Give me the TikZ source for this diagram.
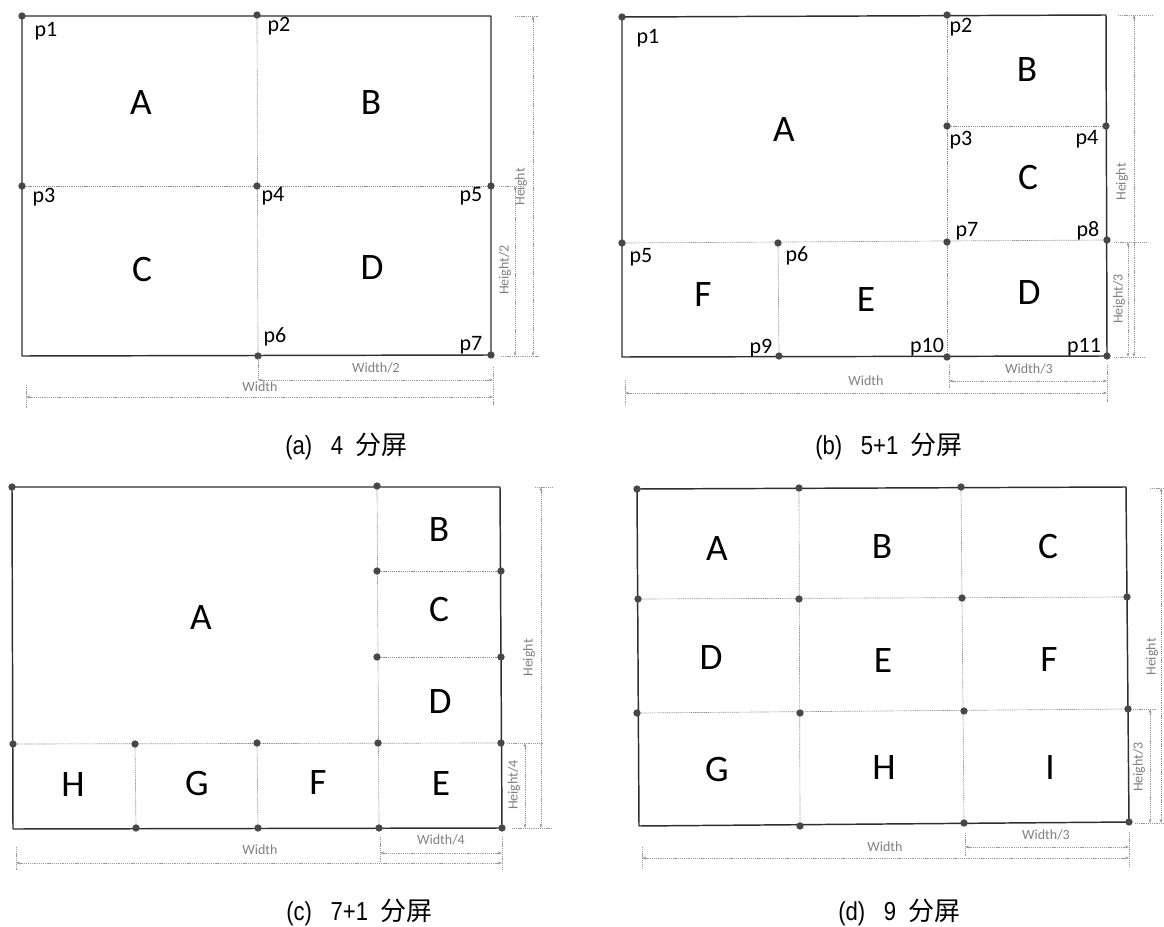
\documentclass[tikz,border=0pt]{standalone}
\usepackage{fontspec}
\setmainfont{Carlito}
\newfontfamily\capfont[FakeStretch=0.85]{Liberation Sans}
\newfontfamily\cjk{Noto Sans CJK SC}
\usetikzlibrary{arrows.meta}
\begin{document}
\begin{tikzpicture}[x=0.75pt,y=-0.75pt,
 border/.style={draw=black!82,line width=1.1pt,line join=round},
 grid/.style={draw=black!45,line width=0.5pt,dash pattern=on 0.8pt off 0.6pt},
 pt/.style={circle,fill=black!72,inner sep=0pt,minimum size=5.5pt},
 dim/.style={draw=black!40,line width=0.45pt,dash pattern=on 0.8pt off 0.6pt,{Stealth[length=3.2pt,width=2.2pt]}-{Stealth[length=3.2pt,width=2.2pt]}},
 ext/.style={draw=black!40,line width=0.45pt,dash pattern=on 0.8pt off 0.6pt},
 dlab/.style={text=black!50,font=\fontsize{10.5}{12}\selectfont,inner sep=0pt},
 big/.style={font=\fontsize{28}{30}\selectfont,inner sep=0pt},
 plab/.style={font=\fontsize{16.5}{18}\selectfont,inner sep=0pt},
 captext/.style={font=\capfont\fontsize{19.5}{22}\selectfont,anchor=west,inner sep=0pt}]
\useasboundingbox (0,0) rectangle (1164,927);

% ================= (a) =================
\coordinate (a1) at (22,16);  \coordinate (a2) at (257,15); \coordinate (aTR) at (491,16);
\coordinate (a3) at (22,186); \coordinate (a4) at (257,186); \coordinate (a5) at (491,186);
\coordinate (aBL) at (22,356); \coordinate (a6) at (258,356); \coordinate (a7) at (491,355);
\draw[grid] (a2) -- (a6);
\draw[grid] (a3) -- (a5);
\draw[border] (a1) -- (aTR) -- (a7) -- (aBL) -- cycle;
\foreach \p in {a1,a2,a3,a4,a5,a6,a7} \node[pt] (\p dot) at (\p) {};
\node[plab] (la1) at (46,31) {p1};
\node[plab] (la2) at (279,26) {p2};
\node[plab] (la3) at (44,197) {p3};
\node[plab] (la4) at (273,196) {p4};
\node[plab] (la5) at (471,196) {p5};
\node[plab] (la6) at (275,337) {p6};
\node[plab] (la7) at (471,345) {p7};
\node[big] (aA) at (141,103) {A};
\node[big] (aB) at (371,103) {B};
\node[big] (aC) at (142,270) {C};
\node[big] (aD) at (372,268) {D};
% dimensions
\draw[ext] (515,16) -- (538,16);
\draw[ext] (499,186) -- (524,186);
\draw[ext] (501,356) -- (540,356);
\draw[dim] (533,16) -- (533,356);
\draw[dim] (515,186) -- (515,356);
\node[dlab,rotate=90] (aH) at (521,187) {Height};
\node[dlab,rotate=90] (aH2) at (505,270) {Height/2};
\draw[ext] (26,385) -- (26,408);
\draw[ext] (493,367) -- (493,405);
\draw[ext] (258,358) -- (258,380);
\draw[dim] (258,380) -- (493,380);
\draw[dim] (26,397) -- (493,397);
\node[dlab] (aW2) at (376,368) {Width/2};
\node[dlab] (aW) at (260,387) {Width};
\node[captext] (capa) at (285,447) {(a)\hspace{14pt}4\hspace{9pt}{\cjk 分屏}};

% ================= (b) =================
\coordinate (b1) at (622,17); \coordinate (b2) at (947,15); \coordinate (bTR) at (1106,15);
\coordinate (b3) at (947,126); \coordinate (b4) at (1106,126);
\coordinate (b5) at (622,243); \coordinate (b6) at (778,243); \coordinate (b7) at (947,242); \coordinate (b8) at (1107,240);
\coordinate (bBL) at (622,357); \coordinate (b9) at (779,356); \coordinate (b10) at (947,357); \coordinate (b11) at (1107,356);
\draw[grid] (b2) -- (b10);
\draw[grid] (b3) -- (b4);
\draw[grid] (b5) -- (b8);
\draw[grid] (b6) -- (b9);
\draw[border] (b1) -- (bTR) -- (b11) -- (bBL) -- cycle;
\foreach \p in {b1,b2,b3,b4,b5,b6,b7,b8,b9,b10,b11} \node[pt] (\p dot) at (\p) {};
\node[plab] (lb1) at (648,38) {p1};
\node[plab] (lb2) at (961,27) {p2};
\node[plab] (lb3) at (961,140) {p3};
\node[plab] (lb4) at (1087,139) {p4};
\node[plab] (lb5) at (641,257) {p5};
\node[plab] (lb6) at (797,256) {p6};
\node[plab] (lb7) at (967,231) {p7};
\node[plab] (lb8) at (1088,231) {p8};
\node[plab] (lb9) at (761,348) {p9};
\node[plab] (lb10) at (927,347) {p10};
\node[plab] (lb11) at (1084,347) {p11};
\node[big] (bA) at (784,130) {A};
\node[big] (bB) at (1027,70) {B};
\node[big] (bC) at (1028,178) {C};
\node[big] (bD) at (1029,293) {D};
\node[big] (bE) at (866,300) {E};
\node[big] (bF) at (703,295) {F};
\draw[ext] (1118,15) -- (1152,15);
\draw[ext] (1114,242) -- (1147,242);
\draw[ext] (1114,357) -- (1145,357);
\draw[dim] (1134,15) -- (1134,357);
\draw[dim] (1128,242) -- (1128,357);
\node[dlab,rotate=90] (bH) at (1122,182) {Height};
\node[dlab,rotate=90] (bH3) at (1119,299) {Height/3};
\draw[ext] (625,380) -- (625,405);
\draw[ext] (949,365) -- (949,388);
\draw[ext] (1107,365) -- (1107,402);
\draw[dim] (949,381) -- (1107,381);
\draw[dim] (625,393) -- (1107,393);
\node[dlab] (bW3) at (1029,369) {Width/3};
\node[dlab] (bW) at (866,381) {Width};
\node[captext] (capb) at (815,447) {(b)\hspace{14pt}5+1\hspace{9pt}{\cjk 分屏}};

% ================= (c) =================
\coordinate (c1) at (12,487); \coordinate (c2) at (377,486); \coordinate (cTR) at (500,487);
\coordinate (c3) at (377,571); \coordinate (c4) at (501,571);
\coordinate (c5) at (377,657); \coordinate (c6) at (501,657);
\coordinate (c7) at (13,744); \coordinate (c8) at (135,744); \coordinate (c9) at (257,743); \coordinate (c10) at (378,743); \coordinate (c11) at (501,743);
\coordinate (cBL) at (13,829); \coordinate (c12) at (136,828); \coordinate (c13) at (258,828); \coordinate (c14) at (379,828); \coordinate (c15) at (502,828);
\draw[grid] (c2) -- (c14);
\draw[grid] (c3) -- (c4);
\draw[grid] (c5) -- (c6);
\draw[grid] (c7) -- (c11);
\draw[grid] (c8) -- (c12);
\draw[grid] (c9) -- (c13);
\draw[border] (c1) -- (cTR) -- (c15) -- (cBL) -- cycle;
\foreach \p in {c1,c2,c3,c4,c5,c6,c7,c8,c9,c10,c11,c12,c13,c14,c15} \node[pt] (\p dot) at (\p) {};
\node[big] (cA) at (201,618) {A};
\node[big] (cB) at (439,530) {B};
\node[big] (cC) at (439,610) {C};
\node[big] (cD) at (440,702) {D};
\node[big] (cE) at (441,784) {E};
\node[big] (cF) at (318,783) {F};
\node[big] (cG) at (197,784) {G};
\node[big] (cH) at (73,785) {H};
\draw[ext] (535,487) -- (553,487);
\draw[ext] (507,743) -- (543,743);
\draw[ext] (512,828) -- (552,828);
\draw[dim] (541,487) -- (541,828);
\draw[dim] (525,743) -- (525,828);
\node[dlab,rotate=90] (cH1) at (529,658) {Height};
\node[dlab,rotate=90] (cH4) at (514,785) {Height/4};
\draw[ext] (16,847) -- (16,870);
\draw[ext] (380,837) -- (380,863);
\draw[ext] (502,837) -- (502,870);
\draw[dim] (380,853) -- (502,853);
\draw[dim] (16,863) -- (502,863);
\node[dlab] (cW4) at (441,840) {Width/4};
\node[dlab] (cW) at (260,850) {Width};
\node[captext] (capc) at (286,912) {(c)\hspace{14pt}7+1\hspace{9pt}{\cjk 分屏}};

% ================= (d) =================
\coordinate (d1) at (637,489); \coordinate (d2) at (799,488); \coordinate (d3) at (961,487); \coordinate (dTR) at (1126,487);
\coordinate (d4) at (638,599); \coordinate (d5) at (799,599); \coordinate (d6) at (962,598); \coordinate (d7) at (1127,597);
\coordinate (d8) at (637,713); \coordinate (d9) at (800,713); \coordinate (d10) at (964,711); \coordinate (d11) at (1128,709);
\coordinate (dBL) at (639,826); \coordinate (d12) at (800,826); \coordinate (d13) at (964,823); \coordinate (d14) at (1129,822);
\draw[grid] (d2) -- (d12);
\draw[grid] (d3) -- (d13);
\draw[grid] (d4) -- (d7);
\draw[grid] (d8) -- (d11);
\draw[border] (d1) -- (dTR) -- (d14) -- (dBL) -- cycle;
\foreach \p in {d1,d2,d3,d4,d5,d6,d7,d8,d9,d10,d11,d12,d13,d14} \node[pt] (\p dot) at (\p) {};
\node[big] (dA) at (717,549) {A};
\node[big] (dB) at (882,547) {B};
\node[big] (dC) at (1048,547) {C};
\node[big] (dD) at (711,658) {D};
\node[big] (dE) at (883,661) {E};
\node[big] (dF) at (1049,660) {F};
\node[big] (dG) at (717,770) {G};
\node[big] (dH) at (884,768) {H};
\node[big] (dI) at (1050,768) {I};
\draw[ext] (1150,488) -- (1164,488);
\draw[ext] (1133,709) -- (1157,709);
\draw[ext] (1135,823) -- (1164,823);
\draw[dim] (1161,488) -- (1161,823);
\draw[dim] (1150,709) -- (1150,823);
\node[dlab,rotate=90] (dH1) at (1152,657) {Height};
\node[dlab,rotate=90] (dH3) at (1139,767) {Height/3};
\draw[ext] (642,847) -- (642,868);
\draw[ext] (965,833) -- (965,857);
\draw[ext] (1129,832) -- (1129,867);
\draw[dim] (965,847) -- (1129,847);
\draw[dim] (642,858) -- (1129,858);
\node[dlab] (dW3) at (1046,835) {Width/3};
\node[dlab] (dW) at (885,847) {Width};
\node[captext] (capd) at (838,912) {(d)\hspace{14pt}9\hspace{9pt}{\cjk 分屏}};
\end{tikzpicture}
\end{document}
